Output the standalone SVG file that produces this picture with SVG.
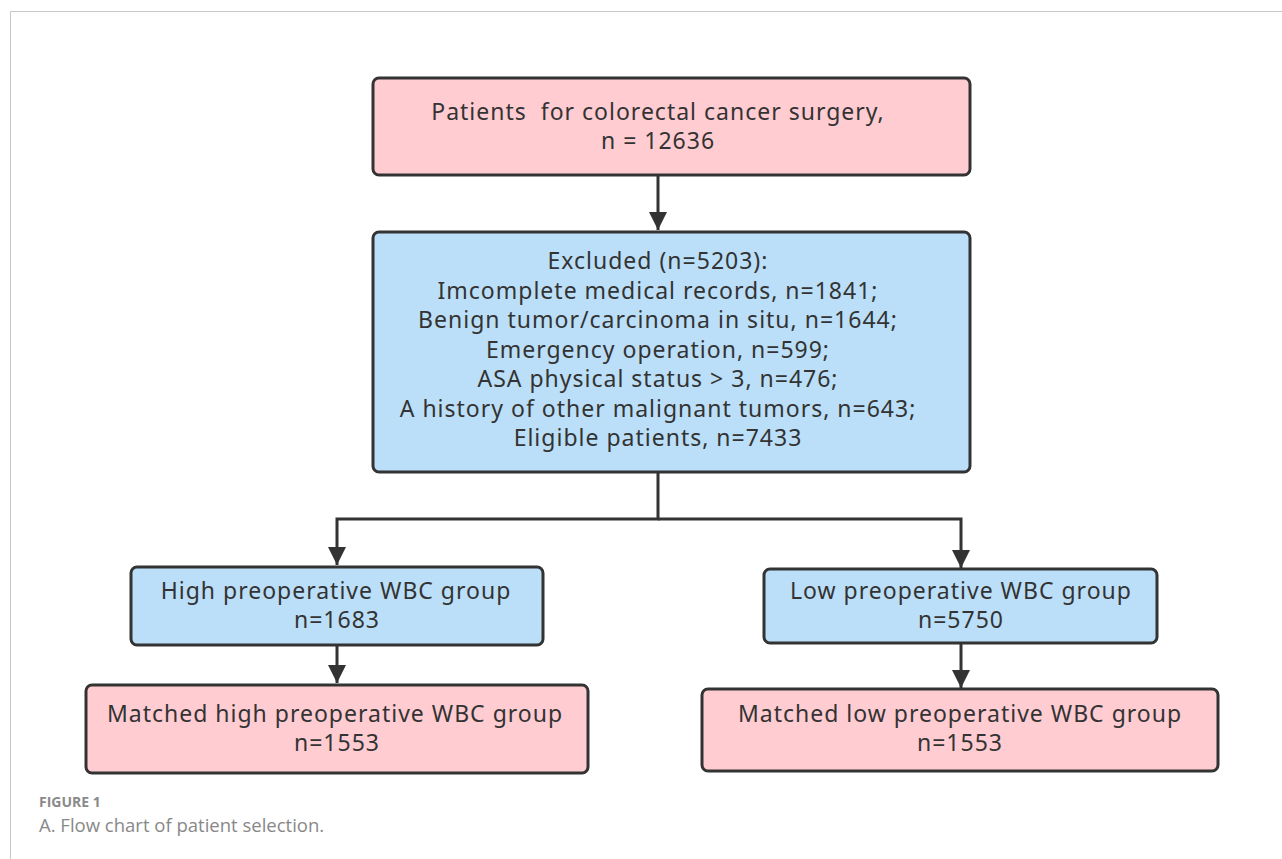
<svg xmlns="http://www.w3.org/2000/svg" width="1282" height="859" viewBox="0 0 1282 859">
<defs>
<style>
.pink{fill:#ffccd2;stroke:#333;stroke-width:3}
.blue{fill:#bbdff8;stroke:#333;stroke-width:3}
.t{font-family:"Noto Sans","Open Sans",sans-serif;font-size:23px;letter-spacing:1px;fill:#333;text-anchor:middle}
.c{stroke:#333;stroke-width:3;fill:none}
</style>
<marker id="ah" viewBox="0 0 10 10" refX="10" refY="5" markerWidth="6" markerHeight="6" markerUnits="strokeWidth" orient="auto">
<path d="M0,0 L10,5 L0,10 z" fill="#333"/>
</marker>
</defs>
<rect width="1282" height="859" fill="#fff"/>
<path d="M10.5,859 V11.5 H1282" fill="none" stroke="#c8c8c8" stroke-width="1"/>
<g id="connectors">
<path class="c" d="M658,175 V230" marker-end="url(#ah)"/>
<path class="c" d="M658,472 V519 H337 V565" marker-end="url(#ah)"/>
<path class="c" d="M658,519 H961 V568" marker-end="url(#ah)"/>
<path class="c" d="M337,645 V683" marker-end="url(#ah)"/>
<path class="c" d="M961,643 V688" marker-end="url(#ah)"/>
</g>
<g id="n1">
<rect class="pink" x="373" y="78" width="597" height="97" rx="6"/>
<text class="t" x="658" y="120" xml:space="preserve">Patients  for colorectal cancer surgery,</text>
<text class="t" x="658" y="149">n = 12636</text>
</g>
<g id="n2">
<rect class="blue" x="373" y="232" width="597" height="240" rx="6"/>
<text class="t" x="658" y="269">Excluded (n=5203):</text>
<text class="t" x="658" y="299">Imcomplete medical records, n=1841;</text>
<text class="t" x="658" y="328">Benign tumor/carcinoma in situ, n=1644;</text>
<text class="t" x="658" y="358">Emergency operation, n=599;</text>
<text class="t" x="658" y="387">ASA physical status &gt; 3, n=476;</text>
<text class="t" x="658" y="417">A history of other malignant tumors, n=643;</text>
<text class="t" x="658" y="446">Eligible patients, n=7433</text>
</g>
<g id="n3">
<rect class="blue" x="131" y="567" width="412" height="78" rx="6"/>
<text class="t" x="336" y="599">High preoperative WBC group</text>
<text class="t" x="337" y="628">n=1683</text>
</g>
<g id="n4">
<rect class="blue" x="764" y="569" width="393" height="74" rx="6"/>
<text class="t" x="961" y="599">Low preoperative WBC group</text>
<text class="t" x="961" y="628">n=5750</text>
</g>
<g id="n5">
<rect class="pink" x="86" y="685" width="502" height="88" rx="6"/>
<text class="t" x="335" y="722">Matched high preoperative WBC group</text>
<text class="t" x="337" y="751">n=1553</text>
</g>
<g id="n6">
<rect class="pink" x="702" y="689" width="516" height="82" rx="6"/>
<text class="t" x="960" y="722">Matched low preoperative WBC group</text>
<text class="t" x="960" y="751">n=1553</text>
</g>
<text x="39" y="807" font-family="'Open Sans','Noto Sans',sans-serif" font-size="14" font-weight="bold" fill="#8a8a8a">FIGURE 1</text>
<text x="39" y="832" font-family="'Open Sans','Noto Sans',sans-serif" font-size="18.5" fill="#888">A. Flow chart of patient selection.</text>
</svg>
